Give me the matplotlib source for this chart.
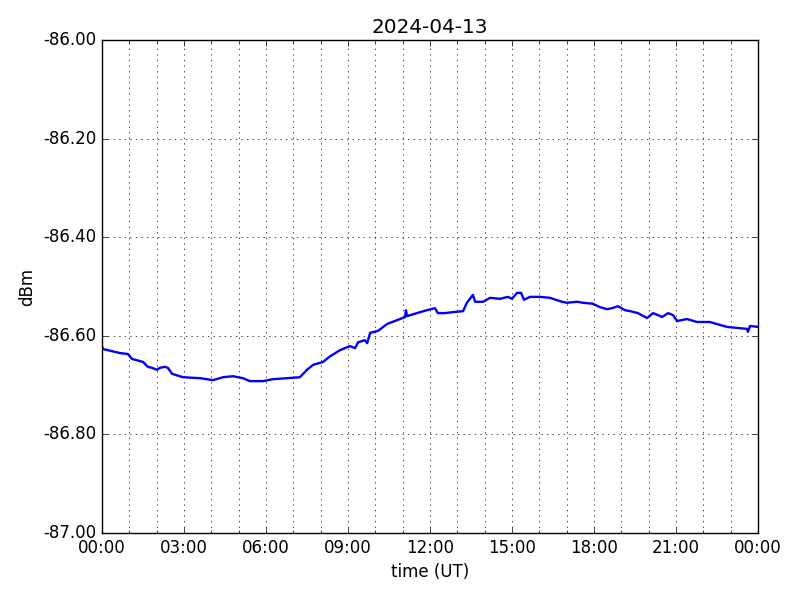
import matplotlib
matplotlib.use("Agg")
import matplotlib.pyplot as plt
import matplotlib.dates as mdates
import matplotlib.ticker as mticker
from datetime import datetime, timedelta

hours = [0.0, 0.04, 0.66, 0.95, 1.10, 1.50, 1.68, 1.83, 2.01, 2.12, 2.30, 2.41, 2.56, 2.96,
         3.59, 4.06, 4.43, 4.79, 5.16, 5.41, 5.89, 6.26, 6.77, 7.24, 7.50, 7.72, 8.09,
         8.31, 8.71, 9.07, 9.26, 9.37, 9.62, 9.70, 9.81, 10.10, 10.43, 10.90, 11.09,
         11.12, 11.16, 11.52, 11.89, 12.18, 12.29, 12.55, 12.84, 13.21, 13.35, 13.57,
         13.65, 13.94, 14.20, 14.56, 14.85, 15.00, 15.18, 15.33, 15.44, 15.66, 16.02,
         16.39, 16.83, 17.01, 17.38, 17.60, 17.96, 18.22, 18.48, 18.66, 18.88, 19.13,
         19.32, 19.61, 19.94, 20.16, 20.34, 20.49, 20.71, 20.89, 21.04, 21.40, 21.77,
         22.24, 22.61, 22.87, 23.23, 23.60, 23.63, 23.71, 24.0]
power = [-86.622, -86.627, -86.635, -86.637, -86.647, -86.653, -86.663, -86.665, -86.669,
         -86.665, -86.663, -86.665, -86.677, -86.684, -86.686, -86.690, -86.684, -86.682,
         -86.686, -86.692, -86.692, -86.688, -86.686, -86.684, -86.669, -86.659, -86.653,
         -86.643, -86.629, -86.621, -86.625, -86.613, -86.609, -86.615, -86.594, -86.590,
         -86.576, -86.566, -86.562, -86.548, -86.560, -86.554, -86.548, -86.544, -86.554,
         -86.554, -86.552, -86.550, -86.533, -86.517, -86.531, -86.531, -86.523, -86.525,
         -86.521, -86.525, -86.513, -86.513, -86.527, -86.521, -86.521, -86.523, -86.531,
         -86.533, -86.531, -86.533, -86.535, -86.542, -86.546, -86.544, -86.540, -86.548,
         -86.550, -86.554, -86.564, -86.554, -86.558, -86.562, -86.554, -86.558, -86.570,
         -86.566, -86.572, -86.572, -86.578, -86.582, -86.584, -86.586, -86.592, -86.580,
         -86.582]

title = "2024-04-13"
start = datetime(2024, 4, 13)
times = [start + timedelta(hours=h) for h in hours]

plt.style.use("classic")
fig = plt.figure(figsize=(8, 6), dpi=100, facecolor="white")
ax = fig.add_axes([0.1275, 0.1117, 0.82, 0.8216])
ax.set_facecolor("white")
ax.plot(times, power, color="blue", lw=1.7)

ax.set_xlim(start, start + timedelta(hours=24))
ax.set_ylim(-87.0, -86.0)
ax.xaxis.set_major_locator(mdates.HourLocator(byhour=range(0, 24, 3)))
ax.xaxis.set_minor_locator(mdates.HourLocator())
ax.xaxis.set_major_formatter(mdates.DateFormatter("%H:%M"))
ax.yaxis.set_major_locator(mticker.MultipleLocator(0.2))
ax.yaxis.set_major_formatter(mticker.FormatStrFormatter("%.2f"))
ax.grid(True, which="major", linestyle=":", color="black")
ax.xaxis.grid(True, which="minor", linestyle=":", color="black")
ax.set_xlabel("time (UT)")
ax.set_ylabel("dBm")
ax.set_title(title)

fig.savefig("out.png", dpi=100, facecolor="white")
